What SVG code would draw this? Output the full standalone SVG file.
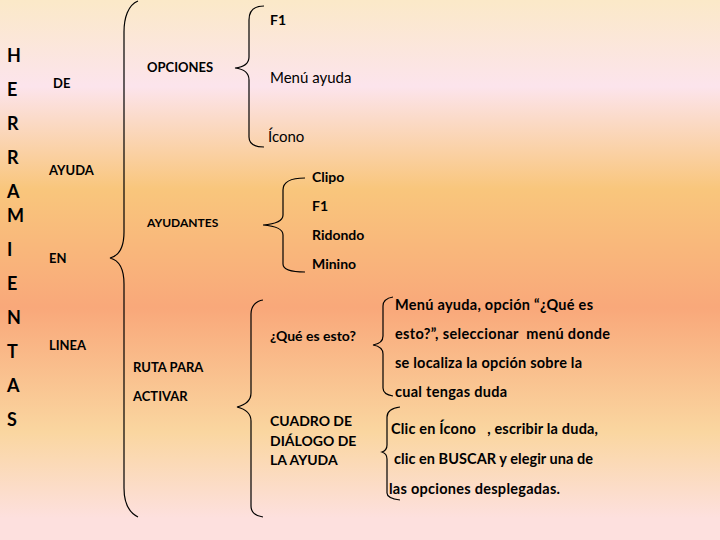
<svg xmlns="http://www.w3.org/2000/svg" width="720" height="540" viewBox="0 0 720 540">
  <defs>
    <linearGradient id="bg" x1="0" y1="0" x2="0" y2="1">
      <stop offset="0" stop-color="#fbe9c8"/>
      <stop offset="0.16" stop-color="#fce4ec"/>
      <stop offset="0.35" stop-color="#f9c67c"/>
      <stop offset="0.57" stop-color="#f9a87a"/>
      <stop offset="0.80" stop-color="#fad6a0"/>
      <stop offset="0.96" stop-color="#fde0de"/>
      <stop offset="1" stop-color="#fde0de"/>
    </linearGradient>
    <style>
      text { font-family: Lato, "Open Sans", "Liberation Sans", sans-serif; fill: #000; font-weight: bold; font-size: 14px; }
      .big { font-size: 18px; }
      .sm { font-size: 13px; }
      .xs { font-size: 12px; }
      .desc { font-size: 14.5px; }
      .reg { font-weight: normal; font-size: 15px; }
      .brace { fill: none; stroke: #000; stroke-width: 1.2; }
    </style>
  </defs>
  <rect x="0" y="0" width="720" height="540" fill="url(#bg)"/>

  <g id="connectors">
    <path class="brace" d="M138,1 C128,5 124,18 124,32 L124,232 C124,248 118,256 110,258 C118,260 124,268 124,284 L124,488 C124,502 128,512 138,517"/>
    <path class="brace" d="M264,6 C255,6 249,10 249,20 L249,57 C249,64 244,67 235,68 C244,69 249,73 249,80 L249,137 C249,144 255,147 264,147"/>
    <path class="brace" d="M305,178 C292,178 283,181 283,190 L283,215 C283,221 276,224 263,225 C276,226 283,229 283,235 L283,264 C283,270 292,272 305,272"/>
    <path class="brace" d="M263,300 C256,301 251,306 251,314 L251,393 C251,401 245,405 237,407 C245,409 251,413 251,421 L251,506 C251,513 256,516 263,517"/>
    <path class="brace" d="M393,297 C387,298 383,301 383,306 L383,336 C383,341 379,344 373,345 C379,346 383,349 383,354 L383,388 C383,392 387,395 393,396"/>
    <path class="brace" d="M400,407 C392,408 387,411 387,417 L387,445 C387,449 385,451 382,452 C385,453 387,455 387,459 L387,493 C387,497 392,499 400,500"/>
  </g>

  <g id="herramientas">
    <text class="big" x="7" y="62">H</text>
    <text class="big" x="7" y="96">E</text>
    <text class="big" x="7" y="130">R</text>
    <text class="big" x="7" y="164">R</text>
    <text class="big" x="7" y="198">A</text>
    <text class="big" x="7" y="222">M</text>
    <text class="big" x="7" y="256">I</text>
    <text class="big" x="7" y="290">E</text>
    <text class="big" x="7" y="324">N</text>
    <text class="big" x="7" y="358">T</text>
    <text class="big" x="7" y="392">A</text>
    <text class="big" x="7" y="426">S</text>
  </g>

  <g id="de-ayuda-en-linea">
    <text class="sm" x="53" y="88">DE</text>
    <text class="sm" x="49" y="175">AYUDA</text>
    <text class="sm" x="49" y="263">EN</text>
    <text class="sm" x="49" y="350">LINEA</text>
  </g>

  <g id="opciones">
    <text class="sm" x="147" y="72">OPCIONES</text>
  </g>
  <g id="opciones-items">
    <text x="270" y="25">F1</text>
    <text class="reg" x="270" y="83">Menú ayuda</text>
    <text class="reg" x="268" y="142">Ícono</text>
  </g>

  <g id="ayudantes">
    <text class="xs" x="147" y="227">AYUDANTES</text>
  </g>
  <g id="ayudantes-items">
    <text x="312" y="182">Clipo</text>
    <text x="312" y="211">F1</text>
    <text x="312" y="240">Ridondo</text>
    <text x="312" y="269">Minino</text>
  </g>

  <g id="ruta">
    <text class="sm" x="133" y="372">RUTA PARA</text>
    <text class="sm" x="133" y="401">ACTIVAR</text>
  </g>

  <g id="que-es-esto">
    <text x="270" y="341">¿Qué es esto?</text>
  </g>
  <g id="cuadro">
    <text x="270" y="426">CUADRO DE</text>
    <text x="270" y="446">DIÁLOGO DE</text>
    <text x="270" y="465">LA AYUDA</text>
  </g>

  <g id="que-es-esto-desc">
    <text class="desc" x="395" y="310" textLength="198">Menú ayuda, opción “¿Qué es</text>
    <text class="desc" x="395" y="339" textLength="215" xml:space="preserve">esto?”, seleccionar  menú donde</text>
    <text class="desc" x="395" y="368" textLength="187">se localiza la opción sobre la</text>
    <text class="desc" x="395" y="397" textLength="112">cual tengas duda</text>
  </g>
  <g id="cuadro-desc">
    <text class="desc" x="391" y="434" textLength="207" xml:space="preserve">Clic en Ícono   , escribir la duda,</text>
    <text class="desc" x="394" y="464" textLength="199">clic en BUSCAR y elegir una de</text>
    <text class="desc" x="389" y="494" textLength="171">las opciones desplegadas.</text>
  </g>
</svg>
